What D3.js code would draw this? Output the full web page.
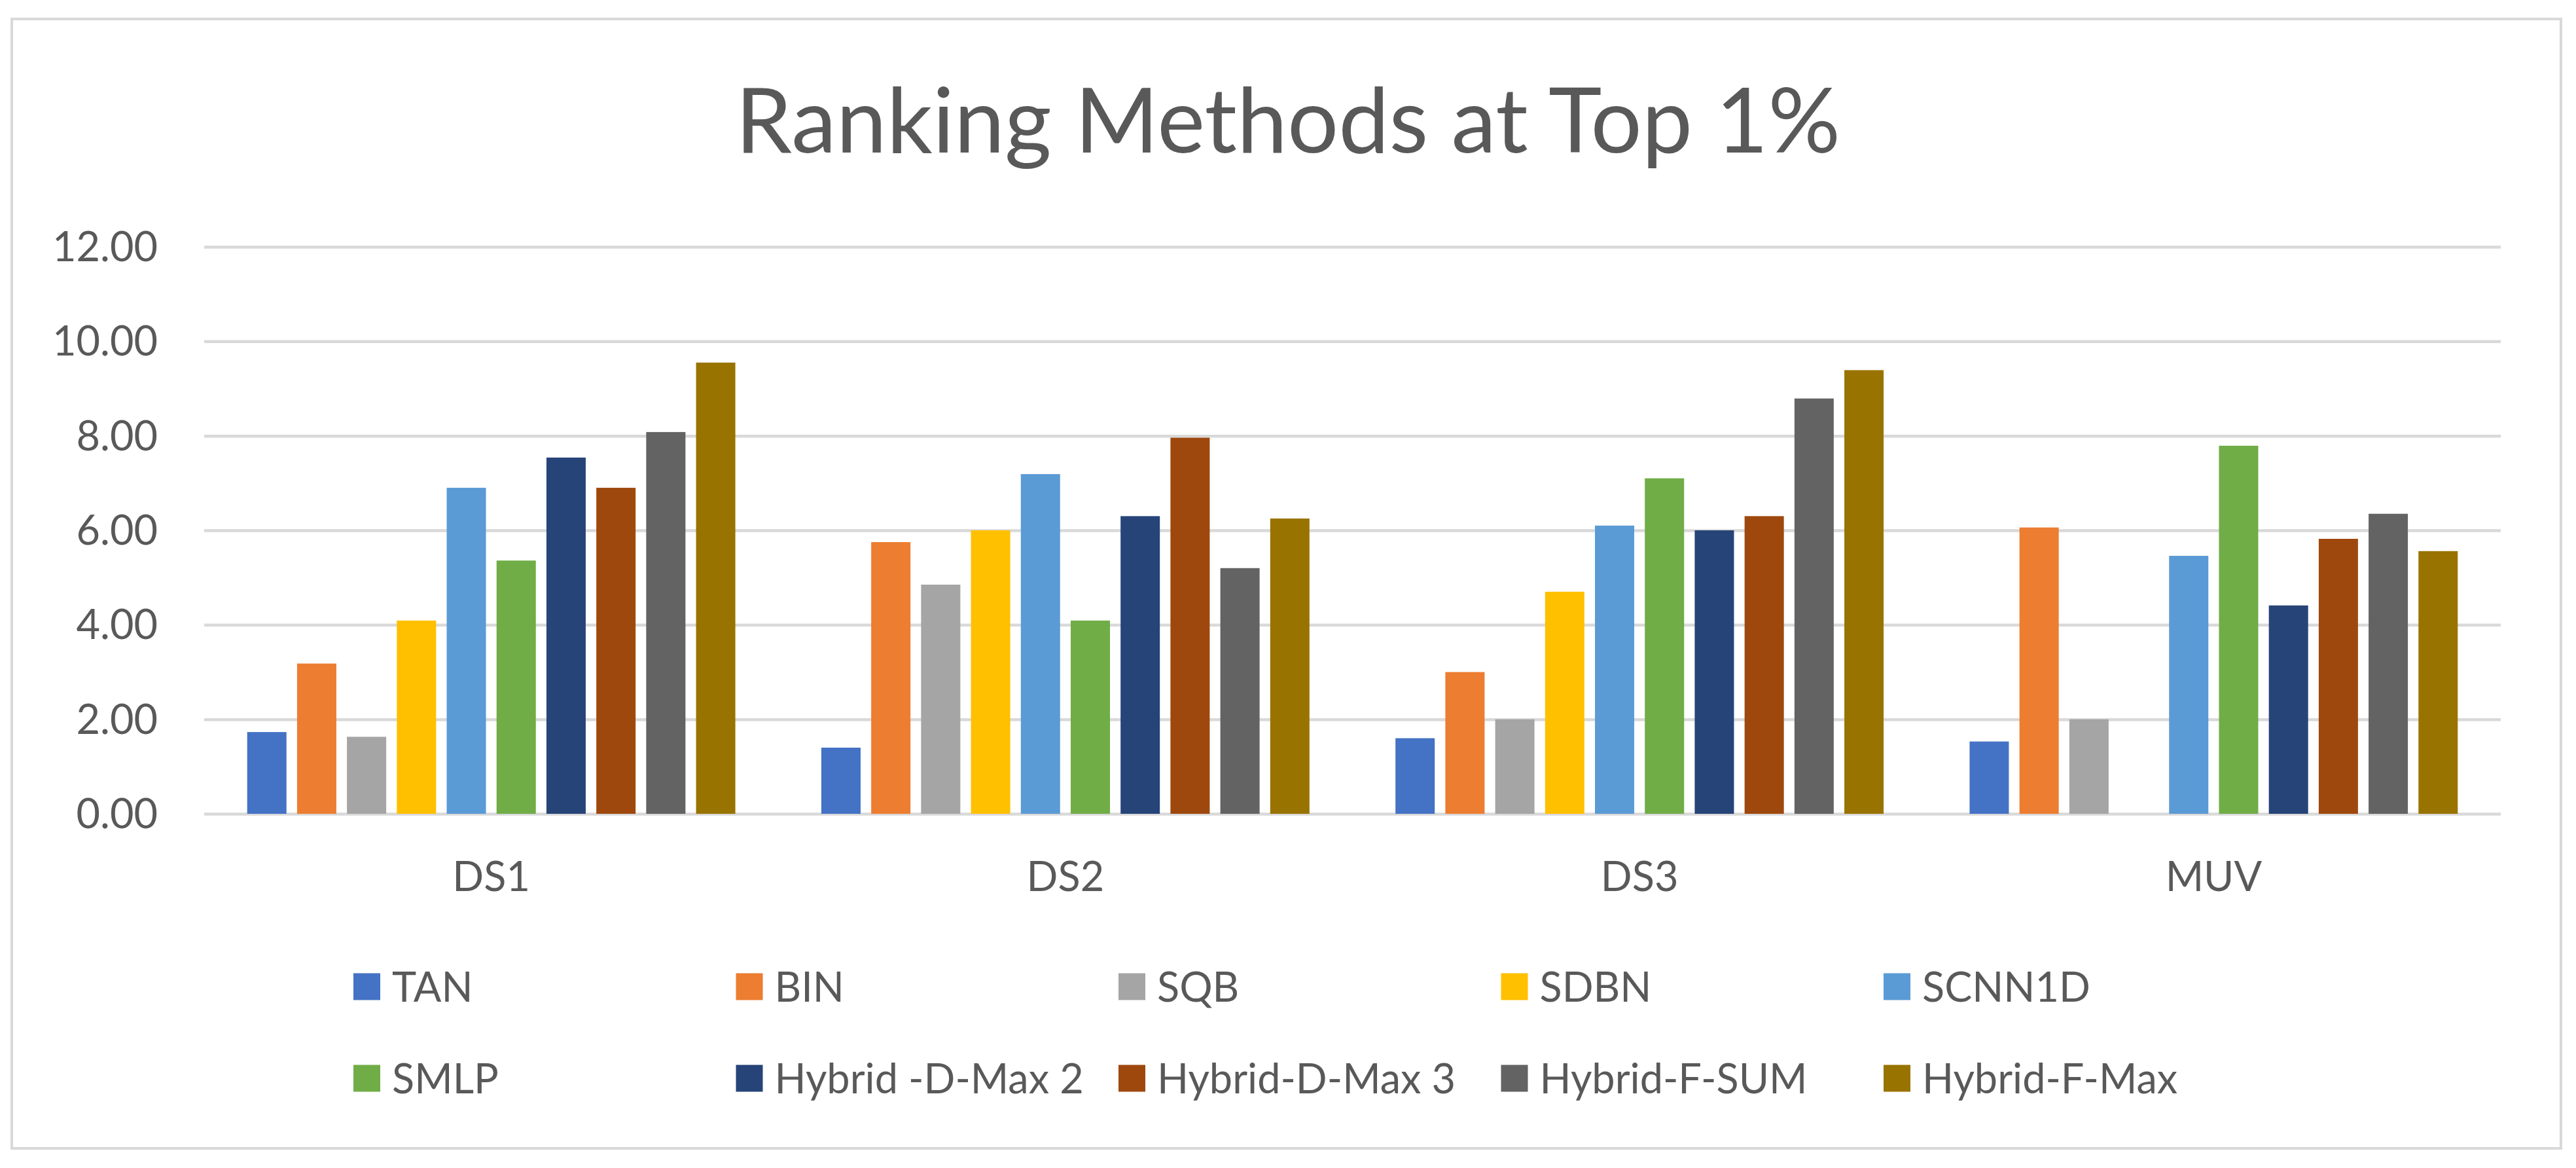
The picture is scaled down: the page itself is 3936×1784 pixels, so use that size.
<!DOCTYPE html>
<html>
<head>
<meta charset="utf-8">
<script src="https://cdn.jsdelivr.net/npm/d3@7"></script>
<style>
  html, body { margin: 0; padding: 0; background: #fff; }
  svg text { font-family: Lato, "Open Sans", sans-serif; fill: #595959; }
</style>
</head>
<body>
<svg id="chart"></svg>
<script>
// dados
const categorias = ["DS1", "DS2", "DS3", "MUV"];
const series = ["TAN", "BIN", "SQB", "SDBN", "SCNN1D", "SMLP",
  "Hybrid -D-Max 2", "Hybrid-D-Max 3", "Hybrid-F-SUM", "Hybrid-F-Max"];
const cores = ["#4472C4", "#ED7D31", "#A5A5A5", "#FFC000", "#5B9BD5", "#70AD47",
  "#264478", "#9E480E", "#636363", "#997300"];

const valTAN    = [1.73, 1.40, 1.60, 1.53];
const valBIN    = [3.18, 5.75, 3.00, 6.06];
const valSQB    = [1.63, 4.85, 2.00, 2.00];
const valSDBN   = [4.09, 6.00, 4.70, null];
const valSCNN1D = [6.90, 7.19, 6.10, 5.46];
const valSMLP   = [5.36, 4.09, 7.10, 7.79];
const valHDM2   = [7.54, 6.30, 6.00, 4.41];
const valHDM3   = [6.90, 7.96, 6.30, 5.82];
const valHFSUM  = [8.08, 5.20, 8.79, 6.35];
const valHFMax  = [9.55, 6.25, 9.39, 5.56];

const ticksY = [0, 2, 4, 6, 8, 10, 12];
const titulo = "Ranking Methods at Top 1%";

const valores = [valTAN, valBIN, valSQB, valSDBN, valSCNN1D, valSMLP, valHDM2, valHDM3, valHFSUM, valHFMax];

const W = 3936, H = 1784;
const plot = { left: 312, right: 3821, top: 377, bottom: 1243 };

const svg = d3.select("#chart").attr("width", W).attr("height", H);

// moldura
svg.append("rect")
  .attr("x", 18).attr("y", 29)
  .attr("width", 3913 - 18).attr("height", 1754 - 29)
  .attr("fill", "#fff").attr("stroke", "#d9d9d9").attr("stroke-width", 4);

svg.append("text")
  .attr("x", 1968).attr("y", 233)
  .attr("text-anchor", "middle")
  .attr("font-size", 138)
  .text(titulo);

const x0 = d3.scaleBand().domain(categorias).range([plot.left, plot.right]).padding(0);
const x1 = d3.scaleBand().domain(series).range([0, x0.bandwidth()])
  .paddingInner(0.2126).paddingOuter(0.862);
const y = d3.scaleLinear().domain([0, 12]).range([plot.bottom, plot.top]);

// grade
const grade = svg.append("g").attr("transform", `translate(${plot.left},0)`);
grade.call(d3.axisLeft(y).tickValues(ticksY).tickSize(-(plot.right - plot.left)).tickFormat(""));
grade.select(".domain").remove();
grade.selectAll(".tick line").attr("stroke", "#d9d9d9").attr("stroke-width", 4.5);

// rótulos do eixo y
svg.append("g").selectAll("text")
  .data(ticksY).enter().append("text")
  .attr("x", 241).attr("y", d => y(d) + 22)
  .attr("text-anchor", "end")
  .attr("font-size", 63)
  .text(d => d3.format(".2f")(d));

// barras
const dados = [];
series.forEach((s, i) => {
  categorias.forEach((c, j) => {
    if (valores[i][j] != null) dados.push({ serie: s, cat: c, valor: valores[i][j], cor: cores[i] });
  });
});

svg.append("g").selectAll("rect")
  .data(dados).enter().append("rect")
  .attr("x", d => x0(d.cat) + x1(d.serie))
  .attr("width", x1.bandwidth())
  .attr("y", d => y(d.valor))
  .attr("height", d => y(0) - y(d.valor))
  .attr("fill", d => d.cor);

// eixo x
svg.append("g").selectAll("text")
  .data(categorias).enter().append("text")
  .attr("x", d => x0(d) + x0.bandwidth() / 2)
  .attr("y", 1361)
  .attr("text-anchor", "middle")
  .attr("font-size", 63)
  .text(d => d);

// legenda
const leg = svg.append("g").selectAll("g")
  .data(series).enter().append("g")
  .attr("transform", (d, i) => `translate(${540 + (i % 5) * 584.5},${1507 + Math.floor(i / 5) * 140})`);
leg.append("rect")
  .attr("x", 0).attr("y", -20.5).attr("width", 41).attr("height", 41)
  .attr("fill", (d, i) => cores[i]);
leg.append("text")
  .attr("x", 59).attr("y", 23)
  .attr("font-size", 63)
  .text(d => d);
</script>
</body>
</html>
